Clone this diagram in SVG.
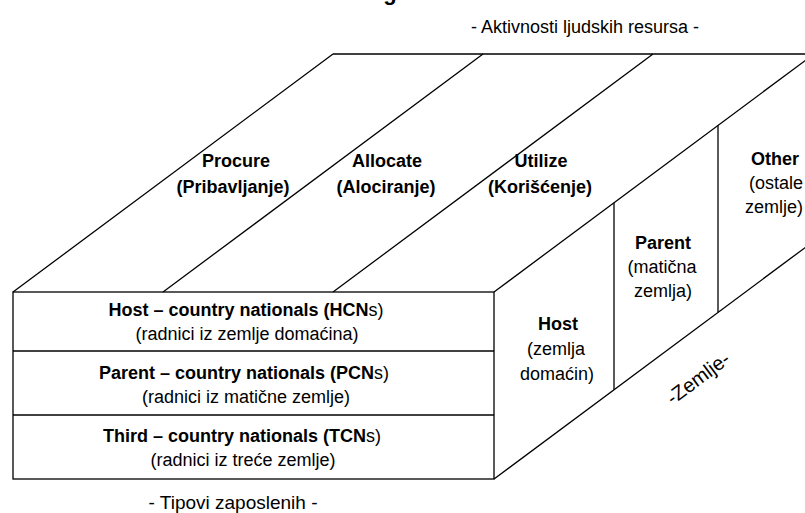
<svg xmlns="http://www.w3.org/2000/svg" width="805" height="513" viewBox="0 0 805 513">
<style>
text{font-family:"Liberation Sans",Arial,sans-serif;font-size:18px;fill:#000;text-anchor:middle}
.b{font-weight:bold}
.ln{stroke:#000;stroke-width:1.3;fill:none}
.top{stroke:#404040;stroke-width:1.8;fill:none}
</style>
<rect width="805" height="513" fill="#fff"/>
<text class="b" x="390" y="0" style="font-size:22px">g</text>
<text x="585" y="33">- Aktivnosti ljudskih resursa -</text>
<g id="connectors">
<line class="top" x1="333" y1="54" x2="805" y2="54"/>
<line class="ln" x1="13" y1="292" x2="333" y2="54"/>
<line class="ln" x1="163" y1="292" x2="483" y2="54"/>
<line class="ln" x1="333" y1="292" x2="653" y2="54"/>
<line class="ln" x1="494" y1="292" x2="814" y2="54"/>
<line class="ln" x1="494" y1="479" x2="814" y2="241"/>
</g>
<g id="top-procure">
<text class="b" x="236" y="167">Procure</text>
<text class="b" x="233" y="193">(Pribavljanje)</text>
</g>
<g id="top-allocate">
<text class="b" x="387" y="167">Allocate</text>
<text class="b" x="386" y="193">(Alociranje)</text>
</g>
<g id="top-utilize">
<text class="b" x="541" y="167">Utilize</text>
<text class="b" x="540" y="193">(Korišćenje)</text>
</g>
<g id="front">
<rect class="ln" x="13" y="292" width="481" height="187"/>
<line class="ln" x1="13" y1="351" x2="494" y2="351"/>
<line class="ln" x1="13" y1="415" x2="494" y2="415"/>
</g>
<g id="row-hcn">
<text x="246" y="316"><tspan class="b">Host – country nationals (HCN</tspan>s)</text>
<text x="247" y="340">(radnici iz zemlje domaćina)</text>
</g>
<g id="row-pcn">
<text x="244" y="379"><tspan class="b">Parent – country nationals (PCN</tspan>s)</text>
<text x="246" y="403">(radnici iz matične zemlje)</text>
</g>
<g id="row-tcn">
<text x="242" y="442"><tspan class="b">Third – country nationals (TCN</tspan>s)</text>
<text x="243" y="466">(radnici iz treće zemlje)</text>
</g>
<g id="side-host">
<text class="b" x="558" y="330">Host</text>
<text x="556" y="355">(zemlja</text>
<text x="557" y="380">domaćin)</text>
</g>
<g id="side-parent">
<line class="ln" x1="614" y1="202.7" x2="614" y2="389.7"/>
<text class="b" x="663" y="249">Parent</text>
<text x="662" y="273">(matična</text>
<text x="663" y="297">zemlja)</text>
</g>
<g id="side-other">
<line class="ln" x1="718" y1="125.3" x2="718" y2="312.3"/>
<text class="b" x="775" y="165">Other</text>
<text x="776" y="189">(ostale</text>
<text x="774" y="213">zemlje)</text>
</g>
<text x="698" y="385" style="font-size:20px" transform="rotate(-36.6 698 378)">-Zemlje-</text>
<text x="233" y="509" style="font-size:19px">- Tipovi zaposlenih -</text>
</svg>
